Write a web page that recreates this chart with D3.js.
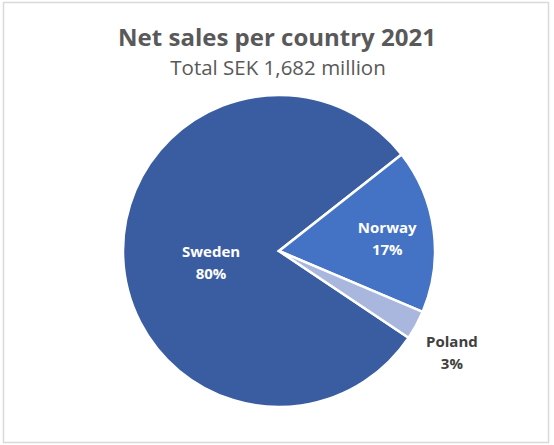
<!DOCTYPE html>
<html>
<head>
<meta charset="utf-8">
<script src="https://cdn.jsdelivr.net/npm/d3@7"></script>
<style>
  html, body { margin: 0; padding: 0; background: #fff; }
  svg { display: block; }
</style>
</head>
<body>
<script>
// ---- data ----
const countries = ["Sweden", "Norway", "Poland"];
const shares = [80, 17, 3];
const colors = ["#3A5DA2", "#4472C4", "#A9B6DE"];
const titleText = "Net sales per country 2021";
const subtitleText = "Total SEK 1,682 million";

// ---- layout ----
const W = 554, H = 445;
const cx = 279, cy = 251, R = 156;
const startDeg = 123.8;

const svg = d3.select("body").append("svg").attr("width", W).attr("height", H);

svg.append("rect")
  .attr("x", 3.5).attr("y", 2.5).attr("width", 545).attr("height", 440)
  .attr("fill", "#fff").attr("stroke", "#D9D9D9").attr("stroke-width", 1.5);

svg.append("text")
  .attr("x", 277).attr("y", 46)
  .attr("text-anchor", "middle")
  .attr("font-family", "Open Sans, sans-serif")
  .attr("font-weight", "bold")
  .attr("font-size", 24)
  .attr("fill", "#595959")
  .text(titleText);

svg.append("text")
  .attr("x", 278).attr("y", 75)
  .attr("text-anchor", "middle")
  .attr("font-family", "Open Sans, sans-serif")
  .attr("font-size", 20.5)
  .attr("fill", "#595959")
  .text(subtitleText);

const data = countries.map((c, i) => ({ name: c, value: shares[i], color: colors[i] }));

const start = startDeg * Math.PI / 180;
const pie = d3.pie().sort(null).value(d => d.value)
  .startAngle(start).endAngle(start + 2 * Math.PI);
const arc = d3.arc().innerRadius(0).outerRadius(R);

const g = svg.append("g").attr("transform", `translate(${cx},${cy})`);
const arcs = pie(data);

g.selectAll("path").data(arcs).join("path")
  .attr("d", arc)
  .attr("fill", d => d.data.color)
  .attr("stroke", "#fff")
  .attr("stroke-width", 2.5)
  .attr("stroke-linejoin", "miter");

// label placement: fraction of radius along mid-angle, plus vertical offset
const labelRadius = [0.436, 0.70, 1.26];
const labelShift = [3.4, -3.6, 2.4];
const labelColor = ["#fff", "#fff", "#404040"];
arcs.forEach((a, i) => {
  const mid = (a.startAngle + a.endAngle) / 2;
  const r = R * labelRadius[i];
  const x = Math.sin(mid) * r, y = -Math.cos(mid) * r + labelShift[i];
  const t = g.append("text")
    .attr("text-anchor", "middle")
    .attr("font-family", "Open Sans, sans-serif")
    .attr("font-weight", "bold")
    .attr("font-size", 15)
    .attr("fill", labelColor[i]);
  t.append("tspan").attr("x", x).attr("y", y).text(a.data.name);
  t.append("tspan").attr("x", x).attr("y", y + 22).text(shares[i] + "%");
});
</script>
</body>
</html>
